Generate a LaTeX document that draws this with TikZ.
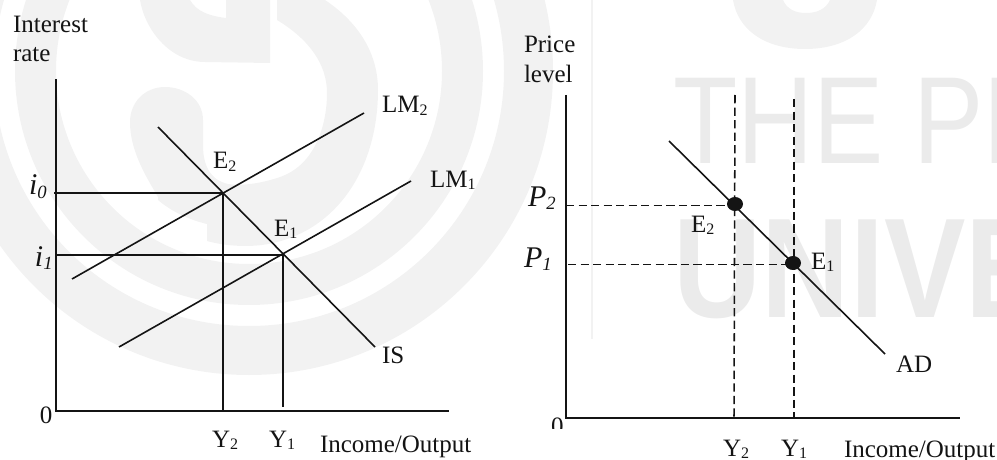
\documentclass[tikz,border=0pt]{standalone}
\usepackage{fontspec}
\usetikzlibrary{shapes.geometric}
\setmainfont{Liberation Serif}
\newfontfamily\wmfont{Liberation Sans}
\definecolor{wmlogo}{HTML}{F2F2F2}
\definecolor{wmtext}{HTML}{EBEBEB}
\definecolor{ink}{HTML}{141414}
\newcommand{\sbs}[1]{\raisebox{-2.2pt}{\fontsize{12}{14}\selectfont #1}}
\newcommand{\isb}[1]{\raisebox{-2.5pt}{\fontsize{14}{16}\selectfont\itshape #1}}
\tikzset{
  lab/.style={anchor=base west,inner sep=0pt,outer sep=0pt,text=ink,font=\fontsize{18.75}{20}\selectfont},
  itlab/.style={anchor=base west,inner sep=0pt,outer sep=0pt,text=ink,font=\fontsize{22.5}{24}\selectfont\itshape},
  curve/.style={draw=ink,line width=1.2pt},
  axis/.style={draw=ink,line width=1.3pt},
  guide/.style={draw=ink,line width=1.15pt},
  dashguide/.style={draw=ink,line width=1.15pt,dash pattern=on 6.2pt off 3.2pt},
  dot/.style={ellipse,fill=ink,inner sep=0pt,minimum width=12pt,minimum height=10.5pt},
  wmt/.style={anchor=base west,inner sep=0pt,text=wmtext,xscale=.85}
}
\begin{document}
\begin{tikzpicture}[x=0.75pt,y=-0.75pt]
\useasboundingbox (0,0) rectangle (997,460);
% watermark
\begin{scope}
\clip (0,0) rectangle (997,460);
\fill[wmlogo,even odd rule] (249,71) circle (234) (249,71) circle (193);
\fill[wmlogo,even odd rule] (249,71) circle (304) (249,71) circle (255);
\fill[wmlogo] (277,0) -- (277,20) .. controls (310,40) and (327,65) .. (327,93)
  .. controls (327,125) and (315,165) .. (280,177) .. controls (260,184) and (240,186) .. (228,184)
  .. controls (210,180) and (203,165) .. (203,145) -- (203,120)
  .. controls (203,100) and (185,87) .. (165,87) .. controls (145,87) and (130,102) .. (130,122)
  .. controls (130,150) and (145,175) .. (158,197) -- (158,200) .. controls (172,212) and (190,220) .. (207,224)
  -- (207,241) .. controls (225,246) and (245,247) .. (262,245)
  .. controls (335,235) and (378,170) .. (378,90) .. controls (378,50) and (355,20) .. (325,0) -- cycle;
\fill[wmlogo] (140,0) .. controls (145,30) and (170,62) .. (205,62) -- (270,63) -- (270,0) -- (226,0) -- (226,18)
  .. controls (210,16) and (197,12) .. (190,0) -- cycle;
\fill[wmlogo,even odd rule] (733,0) .. controls (738,30) and (765,49) .. (805,49) .. controls (845,49) and (872,30) .. (877,0) -- cycle
  (783,0) .. controls (787,9) and (795,13) .. (806,13) .. controls (817,13) and (826,9) .. (830,0) -- cycle;
\fill[wmlogo] (591,0) rectangle (593,339);
\node[wmt,font=\fontsize{93}{95}\selectfont\wmfont] (wmA) at (673,163) {THE PE};
\node[wmt,xscale=1.012,font=\fontsize{106.5}{108}\selectfont\bfseries\wmfont] (wmB) at (673.5,317) {UNIVE};
\end{scope}
% left diagram coordinates
\coordinate (LO) at (56,411);
\coordinate (LT) at (56,79);
\coordinate (LR) at (449,411);
\coordinate (ISa) at (158,127);
\coordinate (ISb) at (375,347);
\coordinate (LMa) at (72,279);
\coordinate (LMb) at (364,113);
\coordinate (LNa) at (119,347);
\coordinate (LNb) at (411,181);
\coordinate (Lio) at (54,193);
\coordinate (LE2) at (223,193);
\coordinate (LY2) at (223,410);
\coordinate (Lia) at (56,255);
\coordinate (LE1) at (283,255);
\coordinate (LY1) at (283,407);
\draw[axis] (LT) -- (LO) -- (LR);
\draw[curve] (ISa) -- (ISb);
\draw[curve] (LMa) -- (LMb);
\draw[curve] (LNa) -- (LNb);
\draw[guide] (Lio) -- (LE2) -- (LY2);
\draw[guide] (Lia) -- (LE1) -- (LY1);
\node[lab] (t1) at (13,33) {Interest};
\node[lab] (t2) at (13,62) {rate};
\node[itlab] (t3) at (29,195) {i\isb{0}};
\node[itlab] (t4) at (35,266) {i\isb{1}};
\node[lab] (t5) at (382,113) {LM\sbs{2}};
\node[lab] (t6) at (430,187) {LM\sbs{1}};
\node[lab] (t7) at (213,169) {E\sbs{2}};
\node[lab] (t8) at (274,236) {E\sbs{1}};
\node[lab] (t9) at (382,363) {IS};
\node[lab] (t10) at (40,423) {0};
\node[lab] (t11) at (212,447) {Y\sbs{2}};
\node[lab] (t12) at (269,447) {Y\sbs{1}};
\node[lab] (t13) at (320,452) {Income/Output};
% right diagram coordinates
\coordinate (RO) at (566,418);
\coordinate (RT) at (566,95);
\coordinate (RR) at (960,418);
\coordinate (ADa) at (669,141);
\coordinate (ADb) at (885,354);
\coordinate (V2t) at (735,95);
\coordinate (V2b) at (734,418);
\coordinate (V1t) at (794,99);
\coordinate (V1b) at (794,418);
\coordinate (H2a) at (566,205.5);
\coordinate (H2b) at (735,205.5);
\coordinate (H1a) at (568,264.5);
\coordinate (H1b) at (793,264.5);
\draw[axis] (RT) -- (RO) -- (RR);
\draw[curve] (ADa) -- (ADb);
\draw[dashguide] (V2t) -- (V2b);
\draw[dashguide] (V1t) -- (V1b);
\draw[dashguide] (H2a) -- (H2b);
\draw[dashguide] (H1a) -- (H1b);
\node[dot] (dE2) at (735,204) {};
\node[dot] (dE1) at (793,263) {};
\node[lab] (r1) at (524,53) {Price};
\node[lab] (r2) at (524,83) {level};
\node[itlab] (r3) at (528,206) {P\isb{2}};
\node[itlab] (r4) at (524,267) {P\isb{1}};
\node[lab] (r5) at (691,232) {E\sbs{2}};
\node[lab] (r6) at (811,269) {E\sbs{1}};
\node[lab] (r7) at (896,372) {AD};
\begin{scope}
\clip (540,410) rectangle (565,428);
\node[lab] (r8) at (551,434) {0};
\end{scope}
\node[lab] (r9) at (723,456) {Y\sbs{2}};
\node[lab] (r10) at (781,456) {Y\sbs{1}};
\node[lab] (r11) at (844,457) {Income/Output};
\end{tikzpicture}
\end{document}
